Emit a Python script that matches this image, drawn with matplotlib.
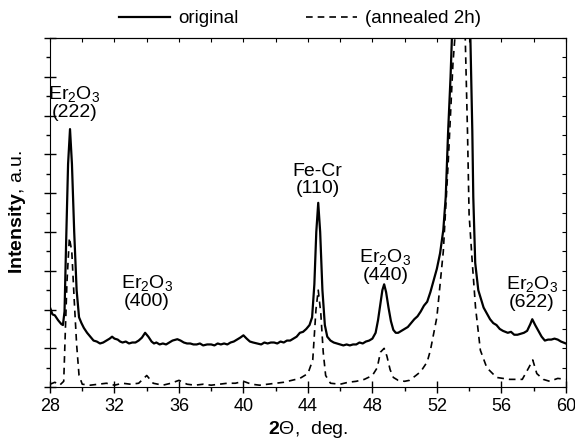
import numpy as np
import matplotlib.pyplot as plt

plt.rcParams['font.family'] = ['Liberation Sans', 'DejaVu Sans']
plt.rcParams['mathtext.fontset'] = 'custom'
plt.rcParams['mathtext.rm'] = 'Liberation Sans'
plt.rcParams['mathtext.it'] = 'Liberation Sans:italic'
plt.rcParams['mathtext.bf'] = 'Liberation Sans:bold'

# original pattern (2theta, intensity a.u.)
x_orig = [28.0, 28.15, 28.3, 28.5, 28.7, 28.8, 28.9, 29.0, 29.12, 29.24, 29.36, 29.5, 29.65, 29.8,
          29.95, 30.1, 30.3, 30.5, 30.7, 30.9, 31.1, 31.3, 31.5, 31.7, 31.85, 32.0, 32.2, 32.35,
          32.5, 32.7, 32.9, 33.1, 33.3, 33.5, 33.7, 33.9, 34.1, 34.3, 34.45, 34.6, 34.8, 35.0,
          35.2, 35.4, 35.6, 35.9, 36.1, 36.3, 36.5, 36.7, 36.9, 37.1, 37.3, 37.5, 37.75, 38.0,
          38.2, 38.4, 38.6, 38.8, 39.0, 39.2, 39.4, 39.6, 39.8, 40.0, 40.2, 40.4, 40.6, 40.85,
          41.1, 41.3, 41.5, 41.7, 41.9, 42.1, 42.3, 42.5, 42.7, 42.9, 43.1, 43.3, 43.5, 43.7,
          43.9, 44.1, 44.26, 44.4, 44.52, 44.64, 44.76, 44.9, 45.05, 45.2, 45.4, 45.6, 45.8,
          46.0, 46.2, 46.4, 46.6, 46.8, 47.0, 47.2, 47.4, 47.6, 47.8, 48.0, 48.2, 48.35, 48.5,
          48.62, 48.73, 48.85, 49.0, 49.15, 49.3, 49.45, 49.6, 49.8, 50.0, 50.2, 50.4, 50.6,
          50.8, 51.0, 51.2, 51.4, 51.6, 51.8, 52.0, 52.2, 52.4, 52.55, 52.7, 52.85, 52.95, 53.2,
          53.5, 53.8, 54.07, 54.2, 54.26, 54.38, 54.57, 54.75, 54.9, 55.1, 55.3, 55.5, 55.7,
          55.9, 56.1, 56.4, 56.6, 56.8, 57.0, 57.2, 57.4, 57.6, 57.8, 57.92, 58.1, 58.3, 58.5,
          58.7, 58.9, 59.1, 59.3, 59.5, 59.7, 59.85, 60.0]
y_orig = [4.1, 3.75, 3.7, 3.45, 3.25, 3.2, 3.9, 7.5, 11.5, 13.3, 11.5, 8.0, 5.0, 3.6,
          3.3, 3.05, 2.8, 2.6, 2.4, 2.35, 2.25, 2.3, 2.4, 2.5, 2.6, 2.5, 2.45, 2.35,
          2.3, 2.35, 2.25, 2.3, 2.3, 2.4, 2.55, 2.8, 2.6, 2.35, 2.25, 2.3, 2.2, 2.25,
          2.2, 2.3, 2.4, 2.47, 2.4, 2.3, 2.25, 2.25, 2.2, 2.2, 2.25, 2.15, 2.2, 2.2,
          2.15, 2.25, 2.2, 2.25, 2.2, 2.3, 2.35, 2.45, 2.55, 2.67, 2.5, 2.35, 2.3, 2.25,
          2.2, 2.3, 2.25, 2.3, 2.3, 2.25, 2.35, 2.3, 2.4, 2.4, 2.5, 2.6, 2.8, 2.85,
          3.0, 3.2, 3.6, 5.3, 8.0, 9.5, 8.0, 5.0, 3.2, 2.6, 2.4, 2.3, 2.25,
          2.2, 2.15, 2.2, 2.15, 2.2, 2.2, 2.3, 2.25, 2.35, 2.4, 2.5, 2.8, 3.45, 4.3,
          5.0, 5.3, 4.9, 4.1, 3.4, 2.95, 2.8, 2.8, 2.9, 3.0, 3.1, 3.3, 3.5,
          3.65, 3.9, 4.2, 4.4, 4.9, 5.5, 6.1, 6.9, 8.1, 9.8, 13.2, 16.0, 18.4, 23.0,
          25.0, 23.0, 18.4, 13.2, 9.8, 6.4, 5.0, 4.5, 4.1, 3.8, 3.5, 3.3, 3.2,
          3.0, 2.9, 2.8, 2.85, 2.7, 2.7, 2.75, 2.8, 2.9, 3.25, 3.5, 3.2, 2.9, 2.6,
          2.4, 2.45, 2.45, 2.5, 2.45, 2.35, 2.3, 2.25]

# annealed 2h pattern
x_ann = [28.0, 28.3, 28.6, 28.85, 28.95, 29.05, 29.2, 29.35, 29.5, 29.65, 29.8, 30.0, 30.5, 31.0,
         31.5, 32.0, 32.5, 33.0, 33.5, 34.0, 34.4, 35.0, 35.5, 36.0, 36.5, 37.0, 37.5, 38.0, 38.5,
         39.0, 39.5, 40.0, 40.5, 41.0, 41.5, 42.0, 42.5, 43.0, 43.5, 44.0, 44.3, 44.5, 44.64, 44.8,
         44.95, 45.1, 45.4, 46.0, 46.5, 47.0, 47.5, 48.0, 48.3, 48.5, 48.73, 48.9, 49.1, 49.3, 49.6,
         50.0, 50.3, 50.7, 51.0, 51.4, 51.6, 52.0, 52.4, 52.7, 53.0, 53.3, 53.5, 53.75, 53.9, 54.0,
         54.2, 54.4, 54.7, 55.1, 55.7, 56.5, 57.3, 57.7, 57.95, 58.2, 58.6, 59.0, 59.5, 60.0]
y_ann = [0.15, 0.25, 0.1, 0.3, 2.9, 5.4, 7.7, 7.0, 4.5, 2.2, 0.6, 0.15, 0.1, 0.15,
         0.2, 0.1, 0.2, 0.15, 0.2, 0.6, 0.2, 0.1, 0.2, 0.35, 0.15, 0.1, 0.15, 0.1, 0.15,
         0.2, 0.2, 0.3, 0.15, 0.1, 0.15, 0.2, 0.25, 0.35, 0.45, 0.7, 1.4, 4.0, 5.0, 3.8,
         1.8, 0.6, 0.2, 0.15, 0.25, 0.3, 0.4, 0.6, 1.0, 1.8, 2.0, 1.6, 0.9, 0.5, 0.35,
         0.3, 0.35, 0.6, 0.8, 1.3, 1.9, 3.6, 7.0, 11.5, 16.7, 20.0, 22.0, 18.4, 13.2, 8.9,
         6.4, 4.1, 1.9, 1.0, 0.5, 0.4, 0.4, 1.0, 1.4, 0.7, 0.4, 0.3, 0.45, 0.4]

# peak labels: (text, 2theta, height)
labels = ['Er$_2$O$_3$\n(222)', 'Er$_2$O$_3$\n(400)', 'Fe-Cr\n(110)', 'Er$_2$O$_3$\n(440)', 'Er$_2$O$_3$\n(622)']
label_x = [29.5, 34.0, 44.6, 48.8, 57.9]
label_y = [13.7, 4.0, 9.8, 5.3, 3.9]

fig = plt.figure(figsize=(5.75, 4.46), dpi=100)
ax = fig.add_axes([0.087, 0.132, 0.897, 0.783])

ax.plot(x_orig, y_orig, 'k-', lw=1.6, label='original')
ax.plot(x_ann, y_ann, 'k--', lw=1.2, dashes=(4, 3), label='(annealed 2h)')

for t, lx, ly in zip(labels, label_x, label_y):
    ax.text(lx, ly, t, ha='center', va='bottom', fontsize=14, linespacing=1.0)

ax.set_xlim(28, 60)
ax.set_ylim(0, 18)
ax.set_xticks(np.arange(28, 61, 4))
ax.set_xticks(np.arange(28, 61, 2), minor=True)
ax.set_yticks(np.arange(0, 19, 2))
ax.set_yticks(np.arange(0, 19, 1), minor=True)
ax.set_yticklabels([])
ax.tick_params(axis='x', which='major', direction='inout', length=8, labelsize=13, width=1)
ax.tick_params(axis='x', which='minor', direction='out', length=3, width=1)
ax.tick_params(axis='y', which='major', direction='inout', length=8, width=1)
ax.tick_params(axis='y', which='minor', direction='out', length=3, width=1)

top = ax.secondary_xaxis('top')
top.set_xticks(np.arange(28, 61, 2))
top.tick_params(direction='in', length=3, labeltop=False)
right = ax.secondary_yaxis('right')
right.set_yticks(np.arange(0, 19, 1))
right.tick_params(direction='in', length=3, labelright=False)

ax.set_xlabel(r'$\mathbf{2}$Θ,  deg.', fontsize=14, labelpad=3)
ax.set_ylabel(r'$\mathbf{Intensity}$, a.u.', fontsize=14, labelpad=8)

fig.legend(loc='center', bbox_to_anchor=(0.522, 0.958), ncol=2, frameon=False, fontsize=13.5,
           handlelength=2.7, columnspacing=3.6, handletextpad=0.45)

fig.savefig('out.png', dpi=100)
